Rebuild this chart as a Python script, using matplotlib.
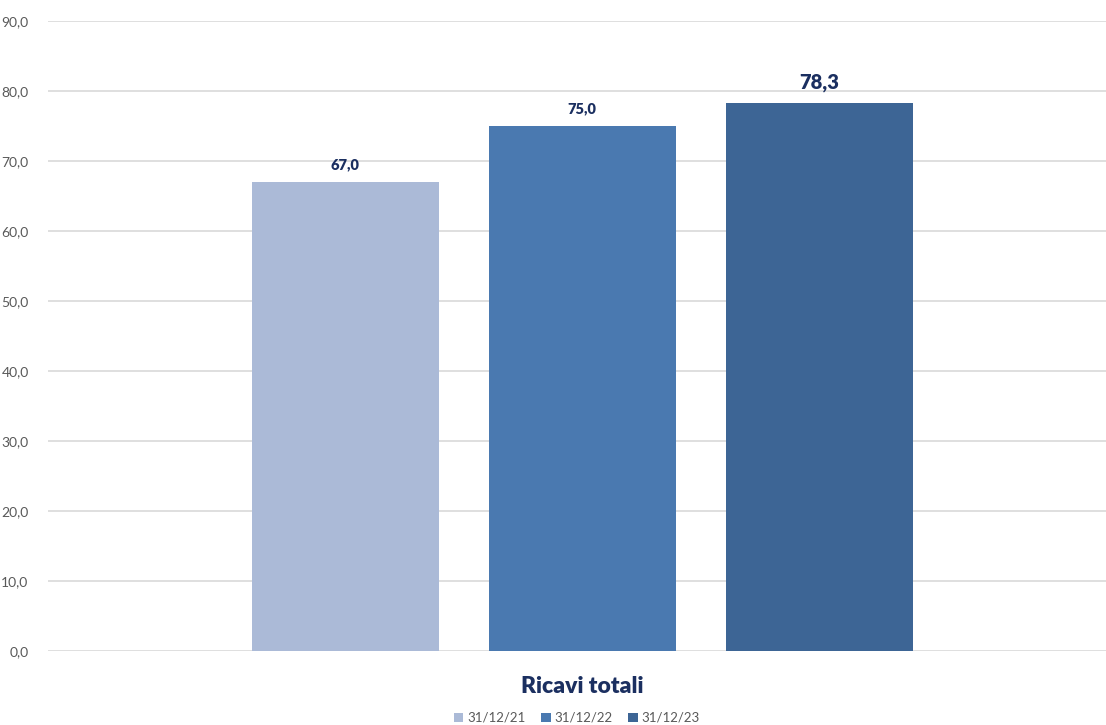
import numpy as np
import matplotlib.pyplot as plt
from matplotlib.ticker import FuncFormatter

plt.rcParams['font.family'] = ['Lato', 'DejaVu Sans']

category = "Ricavi totali"
periods = ["31/12/21", "31/12/22", "31/12/23"]
values = [67.0, 75.0, 78.3]
colors = ["#ABBAD7", "#4A79B0", "#3D6595"]
label_sizes = [10.5, 10.5, 14.5]

fig = plt.figure(figsize=(11.06, 7.25), dpi=100)
ax = fig.add_axes([48 / 1106, 1 - 651 / 725, 1 - 48 / 1106, (651 - 21) / 725])

bar_w = 187 / 1058
step = 237 / 1058
offsets = (np.arange(len(values)) - 1) * step

for off, v, c, name, fs in zip(offsets, values, colors, periods, label_sizes):
    ax.bar(off, v, width=bar_w, color=c, label=name, zorder=2)
    ax.text(off, v + 1.5, f"{v:.1f}".replace(".", ","), ha="center", va="bottom",
            fontsize=fs, fontweight="heavy", color="#1B2F60")

ax.set_xlim(-0.505, 0.495)
ax.set_ylim(0, 90)
ax.set_yticks(np.arange(0, 91, 10))
ax.yaxis.set_major_formatter(FuncFormatter(lambda y, _: f"{y:.1f}".replace(".", ",")))
ax.tick_params(axis="y", length=0, pad=14, labelsize=10, labelcolor="#595959")
ax.set_xticks([0.0])
ax.set_xticklabels([category])
ax.tick_params(axis="x", length=0, pad=18, labelsize=16.5, labelcolor="#1B2F60")
for t in ax.get_xticklabels():
    t.set_fontweight("heavy")

ax.grid(axis="y", color="#D9D9D9", linewidth=1.2, zorder=0)
ax.set_axisbelow(True)
for s in ax.spines.values():
    s.set_visible(False)

leg = ax.legend(loc="center", bbox_to_anchor=(577 / 1106, 7 / 725),
                bbox_transform=fig.transFigure, ncol=3, frameon=False,
                fontsize=9.5, handlelength=0.7, handleheight=0.7, handletextpad=0.3,
                columnspacing=1.2)
for t in leg.get_texts():
    t.set_color("#595959")

fig.savefig("out.png", dpi=100)
